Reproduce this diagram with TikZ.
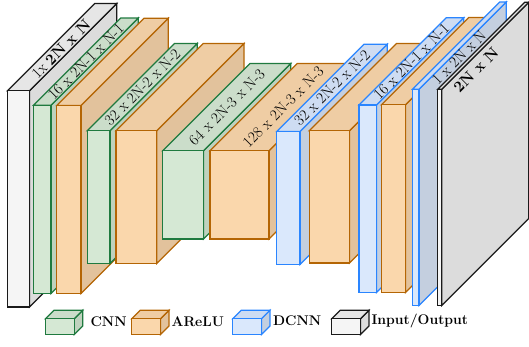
\documentclass[tikz,border=0pt]{standalone}
\usepackage{amsmath}
\usepackage{fontspec}
\usetikzlibrary{positioning,calc}

\definecolor{cnnfront}{HTML}{D5E8D4}
\definecolor{cnntop}{HTML}{CBDDCA}
\definecolor{cnnside}{HTML}{BFD2BE}
\definecolor{cnnline}{HTML}{1F7A3F}
\definecolor{actfront}{HTML}{FAD7AC}
\definecolor{acttop}{HTML}{EFCDA4}
\definecolor{actside}{HTML}{E2C29C}
\definecolor{actline}{HTML}{B46504}
\definecolor{dcnnfront}{HTML}{DAE8FC}
\definecolor{dcnntop}{HTML}{CEDCF2}
\definecolor{dcnnside}{HTML}{C4CFDF}
\definecolor{dcnnline}{HTML}{2A85FF}
\definecolor{iofront}{HTML}{F5F5F5}
\definecolor{iotop}{HTML}{E6E6E6}
\definecolor{ioside}{HTML}{DCDCDC}
\definecolor{ioline}{HTML}{1A1A1A}

\newcommand{\layer}[7]{%
        \filldraw[draw=#2line,fill=#2side] (#4,#5) -- ++(#7,-#7) -- ({#4+#7},{#6-#7}) -- (#4,#6) -- cycle;
        \filldraw[draw=#2line,fill=#2top] (#3,#5) -- ++(#7,-#7) -- ({#4+#7},{#5-#7}) -- (#4,#5) -- cycle;
        \filldraw[draw=#2line,fill=#2front] (#3,#5) rectangle (#4,#6);
        \coordinate (#1) at ({(#3+#4)/2+#7/2},{#5-#7/2});
}

\tikzset{
    lbl/.style={rotate=45,inner sep=0pt,font=\fontsize{15.5}{18}\selectfont},
    legtxt/.style={anchor=base west,inner sep=0pt,font=\fontsize{14}{17}\selectfont\bfseries}
}

\begin{document}
\begin{tikzpicture}[x=1pt,y=-1pt,line width=1.2pt]
        \useasboundingbox (0,0) rectangle (529,346);
        \layer{in}{io}{7.5}{29.5}{90.7}{307}{87.3}
        \layer{c1}{cnn}{33.5}{51}{105.3}{293.5}{87.3}
        \layer{a1}{act}{56.7}{81}{105.5}{293.5}{87.3}
        \layer{c2}{cnn}{87.3}{110}{130.7}{263.5}{87.3}
        \layer{a2}{act}{116}{156.7}{130.7}{263.5}{87.3}
        \layer{c3}{cnn}{162.7}{203.5}{150.7}{239}{87.3}
        \layer{a3}{act}{210}{269}{150.7}{239}{87.3}
        \layer{d1}{dcnn}{276.7}{300}{131.5}{264.5}{87.3}
        \layer{a4}{act}{309.3}{349.5}{130.7}{263}{87.3}
        \layer{d2}{dcnn}{359}{376.5}{105}{292.5}{87.3}
        \layer{a5}{act}{381.5}{405.5}{104.7}{292.5}{87.3}
        \layer{d3}{dcnn}{412.5}{419}{89.3}{305.5}{87.3}
        \layer{out}{io}{437.7}{441.7}{89.3}{305.5}{87}
        \node[lbl] (t-in) at (61,49) {1x \textbf{2N x N}};
        \node[lbl] (t-c1) at (c1) {16 x 2N-1 x N-1};
        \node[lbl] (t-c2) at (c2) {32 x 2N-2 x N-2};
        \node[lbl] (t-c3) at (c3) {64 x 2N-3 x N-3};
        \node[lbl] (t-a3) at (a3) {128 x 2N-3 x N-3};
        \node[lbl] (t-d1) at (d1) {32 x 2N-2 x N-2};
        \node[lbl] (t-d2) at (d2) {16 x 2N-1 x N-1};
        \node[lbl] (t-d3) at (459,57.5) {1 x 2N x N};
        \node[lbl,font=\fontsize{15.5}{18}\selectfont\bfseries] (t-out) at (476,70) {2N x N};
        \layer{k-cnn}{cnn}{45.5}{74.2}{318.7}{334.5}{8.5}
        \layer{k-act}{act}{131.7}{160.5}{318.7}{334.5}{8.5}
        \layer{k-dcnn}{dcnn}{232.8}{261.4}{318.7}{334.5}{8.5}
        \layer{k-io}{io}{331.7}{360.5}{318.7}{334.5}{8.5}
        \node[legtxt] (l-cnn) at (90,326.5) {CNN};
        \node[legtxt] (l-act) at (171,326.5) {AReLU};
        \node[legtxt] (l-dcnn) at (272.5,325.5) {DCNN};
        \node[legtxt] (l-io) at (371,324.5) {Input/Output};
    \end{tikzpicture}
\end{document}
